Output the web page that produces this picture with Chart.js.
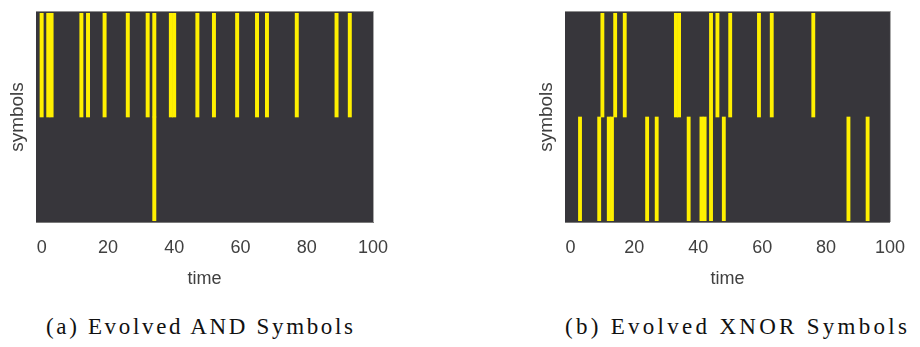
<!DOCTYPE html>
<html><head><meta charset="utf-8">
<script src="https://cdn.jsdelivr.net/npm/chart.js@4.4.1/dist/chart.umd.min.js"></script>
<style>
html,body{margin:0;padding:0;background:#fff;overflow:hidden;width:920px;height:347px;}
canvas{position:absolute;top:0;}
.cap{position:absolute;font-family:"Liberation Serif","Times New Roman",serif;font-size:23px;line-height:23px;color:#111;white-space:nowrap;}
</style></head><body>
<canvas id="c1" width="460" height="300" style="left:0px"></canvas>
<canvas id="c2" width="391" height="300" style="left:529px"></canvas>
<div id="cap1" class="cap"></div>
<div id="cap2" class="cap"></div>
<script>
// ---- data ----
const timeTicks = [0, 20, 40, 60, 80, 100];
const andTopTimes = [0, 2, 3, 12, 14, 19, 26, 32, 34, 39, 40, 47, 52, 59, 65, 68, 77, 89, 93];
const andBottomTimes = [34];
const xnorTopTimes = [10, 14, 17, 33, 34, 44, 46, 50, 59, 63, 76];
const xnorBottomTimes = [3, 9, 12, 13, 24, 27, 37, 41, 42, 44, 48, 87, 93];
const captions = ['(a) Evolved AND Symbols', '(b) Evolved XNOR Symbols'];
const xAxisTitle = 'time';
const yAxisTitle = 'symbols';

// ---- styles ----
const BG = '#37363b';
const YELLOW = '#fff000';
const TXT = '#404040';
const SANS = '"Liberation Sans", Arial, sans-serif';

const framePlugin = {
  id: 'frame',
  beforeDraw(chart) {
    const {ctx, chartArea: a} = chart;
    ctx.save();
    ctx.fillStyle = BG;
    ctx.fillRect(a.left, a.top, a.right - a.left, a.bottom - a.top);
    ctx.restore();
  },
  afterDraw(chart) {
    const {ctx, chartArea: a} = chart;
    ctx.save();
    ctx.lineWidth = 1;
    ctx.strokeStyle = '#8e8e8e';
    ctx.beginPath(); ctx.moveTo(a.left, a.top - 0.5); ctx.lineTo(a.right + 1, a.top - 0.5); ctx.stroke();
    ctx.strokeStyle = '#a8a8a8';
    ctx.beginPath(); ctx.moveTo(a.right + 0.5, a.top - 1); ctx.lineTo(a.right + 0.5, a.bottom); ctx.stroke();
    ctx.restore();
  }
};

function cellsOf(times, row) {
  return times.map(t => ({x: t, y: [row, row + 1]}));
}

function makeChart(id, topTimes, bottomTimes, padRight) {
  const ds = (label, data) => ({
    label, data, backgroundColor: YELLOW, borderWidth: 0,
    grouped: false, barPercentage: 1, categoryPercentage: 1
  });
  return new Chart(document.getElementById(id), {
    type: 'bar',
    data: {datasets: [ds('top', cellsOf(topTimes, 1)), ds('bottom', cellsOf(bottomTimes, 0))]},
    options: {
      responsive: false, animation: false, devicePixelRatio: 1,
      layout: {padding: {top: 12, right: padRight, left: 0, bottom: 0}},
      plugins: {legend: {display: false}, tooltip: {enabled: false}},
      scales: {
        x: {
          type: 'linear', min: -1.7, max: 100, offset: false,
          grid: {display: false, drawTicks: false},
          border: {display: true, color: '#7a7a7a', width: 1},
          afterBuildTicks: s => { s.ticks = timeTicks.map(v => ({value: v})); },
          ticks: {padding: 15, color: TXT, font: {family: SANS, size: 18}, maxRotation: 0, autoSkip: false,
                  callback: v => String(v)},
          title: {display: true, text: xAxisTitle, color: TXT, font: {family: SANS, size: 18},
                  padding: {top: 0, bottom: 10}},
          afterFit: s => { s.height = 78; }
        },
        y: {
          type: 'linear', min: -0.0125, max: 2.0125,
          grid: {display: false}, border: {display: false}, ticks: {display: false},
          title: {display: true, text: yAxisTitle, color: TXT, font: {family: SANS, size: 19},
                  padding: {top: 6, bottom: 0}},
          afterFit: s => { s.width = 36; }
        }
      }
    },
    plugins: [framePlugin]
  });
}

makeChart('c1', andTopTimes, andBottomTimes, 87);
makeChart('c2', xnorTopTimes, xnorBottomTimes, 18);

function placeCaption(el, text, left, right, baseline) {
  el.textContent = text;
  el.style.letterSpacing = '0px';
  const w = el.getBoundingClientRect().width;
  const ls = (right - left - w) / (text.length - 1);
  el.style.letterSpacing = ls + 'px';
  el.style.left = left + 'px';
  el.style.top = (baseline - 19.3) + 'px';
}
placeCaption(document.getElementById('cap1'), captions[0], 46, 353, 334);
placeCaption(document.getElementById('cap2'), captions[1], 565, 907, 334);
</script>
</body></html>
